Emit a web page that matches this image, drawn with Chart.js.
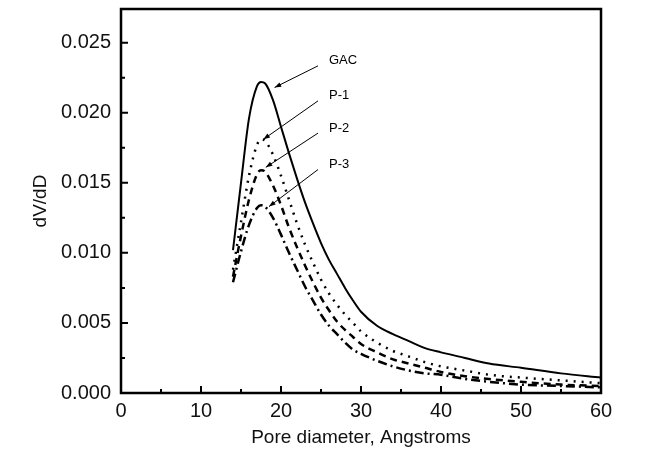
<!DOCTYPE html>
<html>
<head>
<meta charset="utf-8">
<script src="https://cdn.jsdelivr.net/npm/chart.js@4/dist/chart.umd.min.js"></script>
<style>
html,body{margin:0;padding:0;background:#fff;}
#wrap{width:664px;height:462px;}
</style>
</head>
<body>
<div id="wrap"><canvas id="c" width="664" height="462"></canvas></div>
<script>
// Pore diameter (Angstroms)
const poreDiameter = [14, 15, 16, 17, 17.5, 18, 19, 20, 21, 22, 23, 24, 25, 26, 27, 28, 29, 30, 32, 34, 36, 38, 40, 43, 46, 50, 55, 60];
// dV/dD values
const gacValues = [0.0102, 0.0150, 0.0196, 0.0219, 0.0222, 0.0221, 0.0209, 0.0190, 0.0171, 0.0153, 0.0136, 0.0121, 0.0107, 0.0095, 0.0085, 0.0075, 0.0066, 0.0058, 0.0048, 0.0042, 0.0037, 0.0032, 0.0029, 0.0025, 0.0021, 0.0018, 0.0014, 0.0011];
const p1Values  = [0.0088, 0.0122, 0.0155, 0.0177, 0.0181, 0.0180, 0.0170, 0.0155, 0.0138, 0.0121, 0.0106, 0.0093, 0.0081, 0.0071, 0.0063, 0.0056, 0.0050, 0.0044, 0.0036, 0.0030, 0.0026, 0.0022, 0.0019, 0.0016, 0.0013, 0.0011, 0.0009, 0.0007];
const p2Values  = [0.0083, 0.0112, 0.0138, 0.0156, 0.0159, 0.0158, 0.0148, 0.0134, 0.0118, 0.0104, 0.0091, 0.0079, 0.0068, 0.0059, 0.0051, 0.0045, 0.0040, 0.0035, 0.0029, 0.0024, 0.0021, 0.0018, 0.0015, 0.0012, 0.0010, 0.0008, 0.0006, 0.0005];
const p3Values  = [0.0079, 0.0101, 0.0120, 0.0132, 0.0134, 0.0133, 0.0125, 0.0113, 0.0100, 0.0088, 0.0076, 0.0066, 0.0056, 0.0048, 0.0042, 0.0036, 0.0031, 0.0028, 0.0023, 0.0019, 0.0016, 0.0014, 0.0013, 0.0010, 0.0008, 0.0006, 0.0005, 0.0004];
const seriesNames = ["GAC", "P-1", "P-2", "P-3"];
const xTickValues = [0, 10, 20, 30, 40, 50, 60];
const yTickValues = [0.000, 0.005, 0.010, 0.015, 0.020, 0.025];
// annotation label anchors [labelX, labelY, arrowTipX, arrowTipY] in data units
const labelAnchors = [
  [26.0, 0.0237, 19.2, 0.0218],
  [26.0, 0.0212, 17.8, 0.0181],
  [26.0, 0.0189, 18.1, 0.0161],
  [26.0, 0.0163, 18.5, 0.0133]
];

const FONT = "Arial, 'Liberation Sans', sans-serif";

function mk(vals){ return poreDiameter.map((x,i)=>({x:x, y:vals[i]})); }

const framePlugin = {
  id: 'frame',
  afterDatasetsDraw(chart){
    const {ctx, chartArea:a, scales:{x, y}} = chart;
    ctx.save();
    ctx.strokeStyle = '#000';
    ctx.lineWidth = 2;
    ctx.beginPath();
    for (let v = 0; v <= 60; v += 5) {
      const px = x.getPixelForValue(v);
      const len = (v % 10 === 0) ? 7 : 4;
      ctx.moveTo(px, a.bottom); ctx.lineTo(px, a.bottom - len);
    }
    for (let k = 0; k <= 10; k++) {
      const v = k * 0.0025;
      const py = y.getPixelForValue(v);
      const len = (k % 2 === 0) ? 7 : 4;
      ctx.moveTo(a.left, py); ctx.lineTo(a.left + len, py);
    }
    ctx.stroke();
    ctx.lineWidth = 2.5;
    ctx.strokeRect(a.left, a.top, a.right - a.left, a.bottom - a.top);
    ctx.fillStyle = '#000';
    ctx.font = "13px " + FONT;
    ctx.textBaseline = 'middle';
    ctx.textAlign = 'left';
    ctx.lineWidth = 1;
    labelAnchors.forEach((an, i) => {
      const tx = x.getPixelForValue(an[0]), ty = y.getPixelForValue(an[1]);
      ctx.fillText(seriesNames[i], tx, ty);
      const sx = tx - 11, sy = ty + 5;
      const ex = x.getPixelForValue(an[2]), ey = y.getPixelForValue(an[3]);
      ctx.beginPath(); ctx.moveTo(sx, sy); ctx.lineTo(ex, ey); ctx.stroke();
      const ang = Math.atan2(ey - sy, ex - sx);
      const L = 7, W = 0.35;
      ctx.beginPath();
      ctx.moveTo(ex, ey);
      ctx.lineTo(ex - L*Math.cos(ang - W), ey - L*Math.sin(ang - W));
      ctx.lineTo(ex - L*Math.cos(ang + W), ey - L*Math.sin(ang + W));
      ctx.closePath(); ctx.fill();
    });
    ctx.restore();
  }
};

new Chart(document.getElementById('c'), {
  type: 'line',
  data: {
    datasets: [
      {label: seriesNames[0], data: mk(gacValues), borderColor:'#000', borderWidth:2, borderDash:[], pointRadius:0, cubicInterpolationMode:'monotone', fill:false},
      {label: seriesNames[1], data: mk(p1Values), borderColor:'#000', borderWidth:2.5, borderDash:[2,6], pointRadius:0, cubicInterpolationMode:'monotone', fill:false},
      {label: seriesNames[2], data: mk(p2Values), borderColor:'#000', borderWidth:2.5, borderDash:[7,5], pointRadius:0, cubicInterpolationMode:'monotone', fill:false},
      {label: seriesNames[3], data: mk(p3Values), borderColor:'#000', borderWidth:2.5, borderDash:[9,4,2,4], pointRadius:0, cubicInterpolationMode:'monotone', fill:false}
    ]
  },
  options: {
    responsive: false,
    animation: false,
    events: [],
    layout: {padding: {left: 0, right: 63, top: 9, bottom: 0}},
    plugins: {legend: {display: false}, tooltip: {enabled: false}},
    scales: {
      x: {
        type: 'linear', min: 0, max: 60,
        afterBuildTicks(s){ s.ticks = xTickValues.map(v => ({value: v})); },
        afterFit(s){ s.height = 69; s.paddingLeft = 0; s.paddingRight = 0; },
        grid: {display: false, drawTicks: false},
        border: {display: false},
        ticks: {padding: 6, color: '#111', font: {family: FONT, size: 20}, maxRotation: 0},
        title: {display: true, text: 'Pore diameter, Angstroms', color: '#111', font: {family: FONT, size: 19}, padding: {top: 0, bottom: 13}}
      },
      y: {
        type: 'linear', min: 0, max: 0.0274,
        afterBuildTicks(s){ s.ticks = yTickValues.map(v => ({value: v})); },
        afterFit(s){ s.width = 121; s.paddingTop = 0; s.paddingBottom = 0; },
        grid: {display: false, drawTicks: false},
        border: {display: false},
        ticks: {padding: 10, color: '#111', font: {family: FONT, size: 20}, callback: v => Number(v).toFixed(3)},
        title: {display: true, text: 'dV/dD', color: '#111', font: {family: FONT, size: 19}, padding: {top: 29, bottom: 0}}
      }
    }
  },
  plugins: [framePlugin]
});
</script>
</body>
</html>
